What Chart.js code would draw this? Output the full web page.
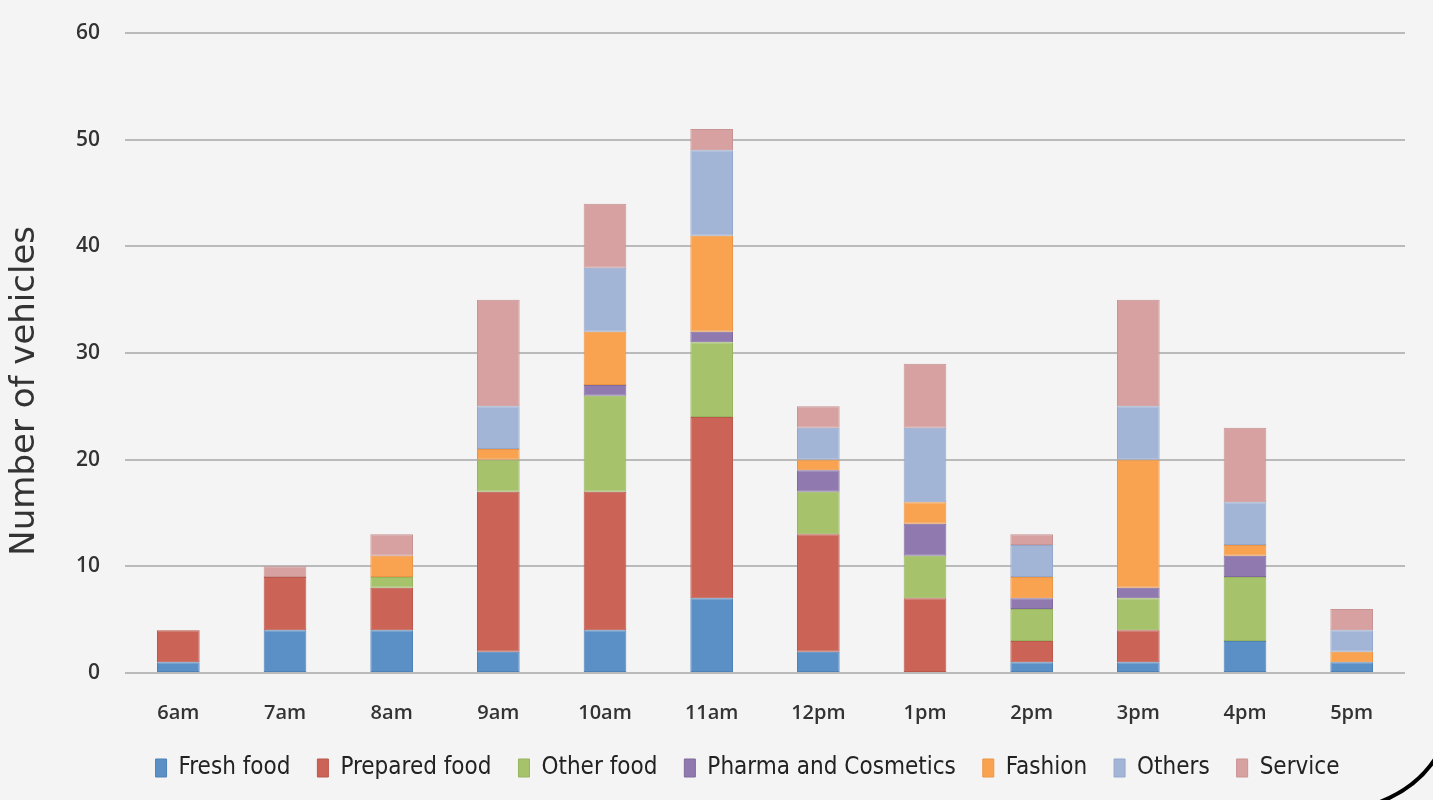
<!DOCTYPE html>
<html>
<head>
<meta charset="utf-8">
<script src="https://cdn.jsdelivr.net/npm/chart.js@4"></script>
<style>
  html, body { margin: 0; padding: 0; background: #f4f4f4; }
  #wrap { width: 1433px; height: 800px; position: relative; }
</style>
</head>
<body>
<div id="wrap"><canvas id="chartCanvas" width="1433" height="800"></canvas></div>
<script>
const hours = ["6am", "7am", "8am", "9am", "10am", "11am", "12pm", "1pm", "2pm", "3pm", "4pm", "5pm"];

const freshFood     = [1, 4, 4, 2, 4, 7, 2, 0, 1, 1, 3, 1];
const preparedFood  = [3, 5, 4, 15, 13, 17, 11, 7, 2, 3, 0, 0];
const otherFood     = [0, 0, 1, 3, 9, 7, 4, 4, 3, 3, 6, 0];
const pharma        = [0, 0, 0, 0, 1, 1, 2, 3, 1, 1, 2, 0];
const fashion       = [0, 0, 2, 1, 5, 9, 1, 2, 2, 12, 1, 1];
const others        = [0, 0, 0, 4, 6, 8, 3, 7, 3, 5, 4, 2];
const service       = [0, 1, 2, 10, 6, 2, 2, 6, 1, 10, 7, 2];

const yTicks = [0, 10, 20, 30, 40, 50, 60];

const series = [
  { label: "Fresh food", data: freshFood, color: "#5b90c6", border: "#4f82b8" },
  { label: "Prepared food", data: preparedFood, color: "#cb6457", border: "#bb574b" },
  { label: "Other food", data: otherFood, color: "#a6c36c", border: "#97b45f" },
  { label: "Pharma and Cosmetics", data: pharma, color: "#9079ae", border: "#806a9f" },
  { label: "Fashion", data: fashion, color: "#f9a351", border: "#ec9444" },
  { label: "Others", data: others, color: "#a3b5d7", border: "#94a7ca" },
  { label: "Service", data: service, color: "#d6a1a0", border: "#c99393" }
];

// legend in the original sits a bit right of the canvas centre
const legendShift = {
  id: "legendShift",
  afterLayout(chart) {
    if (chart.legend) chart.legend.left += 90;
  }
};

// little black corner curve seen on the slide
const cornerCurve = {
  id: "cornerCurve",
  afterDraw(chart) {
    const c = chart.ctx;
    c.save();
    c.strokeStyle = "#000";
    c.lineWidth = 4;
    c.beginPath();
    c.moveTo(1380, 802);
    c.quadraticCurveTo(1418, 787, 1437, 756);
    c.stroke();
    c.restore();
  }
};

const ctx = document.getElementById("chartCanvas").getContext("2d");

new Chart(ctx, {
  type: "bar",
  data: {
    labels: hours,
    datasets: series.map(s => ({
      label: s.label,
      data: s.data,
      backgroundColor: s.color,
      borderColor: s.border,
      borderWidth: 1,
      borderSkipped: false,
      barPercentage: 0.4,
      categoryPercentage: 1.0
    }))
  },
  options: {
    responsive: false,
    animation: false,
    layout: { padding: { left: 0, right: 28, top: 33, bottom: 10 } },
    plugins: {
      tooltip: { enabled: false },
      legend: {
        position: "bottom",
        labels: {
          boxWidth: 11,
          boxHeight: 18,
          padding: 27,
          color: "#222",
          font: { family: "'DejaVu Sans Condensed', 'Liberation Sans Narrow', sans-serif", size: 24 }
        }
      }
    },
    scales: {
      x: {
        stacked: true,
        afterFit(scale) { scale.height -= 24; },
        grid: { display: false, drawTicks: false },
        border: { display: false },
        ticks: {
          padding: 28,
          color: "#333",
          font: { family: "'Open Sans', sans-serif", size: 20, weight: "600" }
        }
      },
      y: {
        stacked: true,
        min: 0,
        max: 60,
        afterFit(scale) { scale.width = 125; },
        afterBuildTicks(scale) { scale.ticks = yTicks.map(v => ({ value: v })); },
        grid: { color: "#bababa", lineWidth: 2, drawTicks: true, tickLength: 25, tickColor: "rgba(0,0,0,0)" },
        border: { display: false },
        ticks: {
          padding: 0,
          color: "#333",
          font: { family: "'Open Sans', sans-serif", size: 21, weight: "600" }
        },
        title: {
          display: true,
          text: "Number of vehicles       ",
          color: "#333",
          padding: { top: 5, bottom: 0 },
          font: { family: "'DejaVu Sans', sans-serif", size: 34 }
        }
      }
    }
  },
  plugins: [legendShift, cornerCurve]
});
</script>
</body>
</html>
